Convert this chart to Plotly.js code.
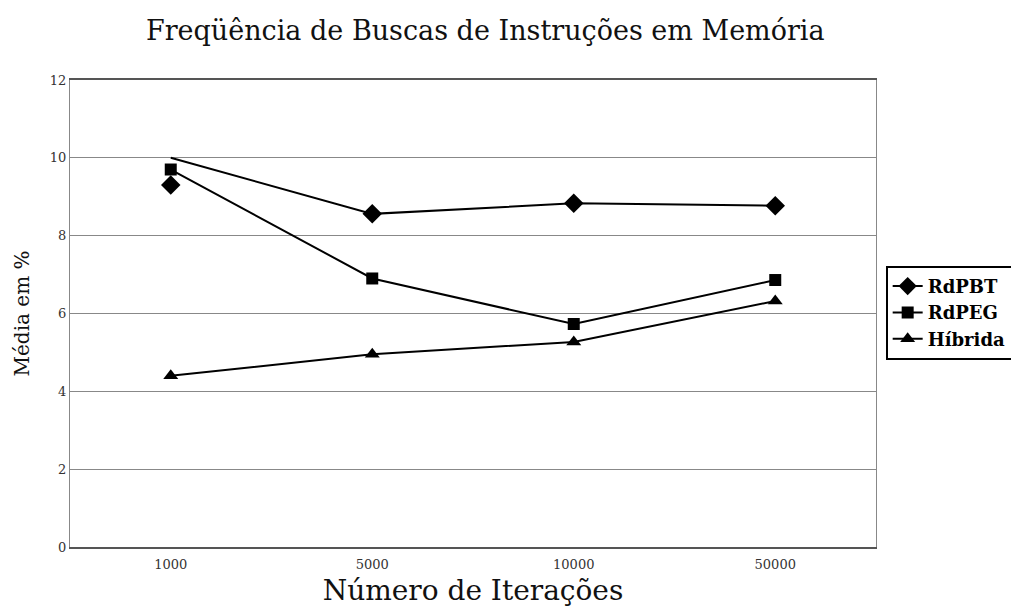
<!DOCTYPE html>
<html>
<head>
<meta charset="utf-8">
<script src="https://cdn.plot.ly/plotly-3.0.1.min.js"></script>
<style>body{margin:0;background:#fff;}#chart{width:1011px;height:616px;}</style>
</head>
<body>
<div id="chart"></div>
<script>
const categories = ["1000", "5000", "10000", "50000"];
const rdpbt = [9.3, 8.56, 8.83, 8.77];
const rdpbtLine = [10.0, 8.56, 8.83, 8.77];
const rdpeg = [9.7, 6.9, 5.73, 6.86];
const hibrida = [4.4, 4.95, 5.27, 6.32];
const yTicks = [0, 2, 4, 6, 8, 10, 12];

const serif = "DejaVu Serif, Liberation Serif, serif";
const traces = [
  {x: categories, y: rdpbtLine, mode: "lines", line: {color: "#000", width: 2}, showlegend: false, hoverinfo: "skip"},
  {x: categories, y: rdpbt, name: "RdPBT", mode: "markers", marker: {symbol: "diamond", size: 15, color: "#000"}, showlegend: false},
  {x: [null], y: [null], name: "RdPBT", mode: "lines+markers", marker: {symbol: "diamond", size: 14, color: "#000"}, line: {color: "#000", width: 2}},
  {x: categories, y: rdpeg, name: "RdPEG", mode: "lines+markers", marker: {symbol: "square", size: 12, color: "#000"}, line: {color: "#000", width: 2}},
  {x: categories, y: hibrida, name: "Híbrida", mode: "lines+markers", marker: {symbol: "triangle-up", size: 13, color: "#000"}, line: {color: "#000", width: 2}}
];

const layout = {
  width: 1011, height: 616,
  margin: {l: 70, r: 135, t: 80, b: 69, autoexpand: false},
  paper_bgcolor: "#fff", plot_bgcolor: "#fff",
  title: {text: "Freqüência de Buscas de Instruções em Memória", x: 0.48, xanchor: "center", y: 0.95, yanchor: "middle", font: {family: serif, size: 27, color: "#111"}},
  xaxis: {
    type: "category", range: [-0.5, 3.5],
    showgrid: false, showline: true, linecolor: "#555", linewidth: 2, mirror: true,
    ticks: "", ticklabelstandoff: 4, tickfont: {family: serif, size: 13, color: "#333"},
    title: {text: "Número de Iterações", font: {family: serif, size: 28, color: "#111"}, standoff: 10}
  },
  yaxis: {
    range: [0, 12], tickvals: yTicks, ticktext: yTicks.map(String),
    showgrid: true, gridcolor: "#888", gridwidth: 1,
    showline: true, linecolor: "#888", linewidth: 1, mirror: true,
    zeroline: false, ticks: "", ticklen: 0,
    tickfont: {family: serif, size: 13, color: "#333"},
    title: {text: "Média em %", font: {family: serif, size: 20, color: "#111"}, standoff: 14}
  },
  legend: {
    x: 1.012, xanchor: "left", y: 0.602, yanchor: "top",
    bordercolor: "#000", borderwidth: 2, bgcolor: "#fff",
    font: {family: serif, size: 18, color: "#000", weight: "bold"},
    tracegroupgap: 0
  },
  showlegend: true
};

Plotly.newPlot("chart", traces, layout, {displayModeBar: false, staticPlot: true});
</script>
</body>
</html>
